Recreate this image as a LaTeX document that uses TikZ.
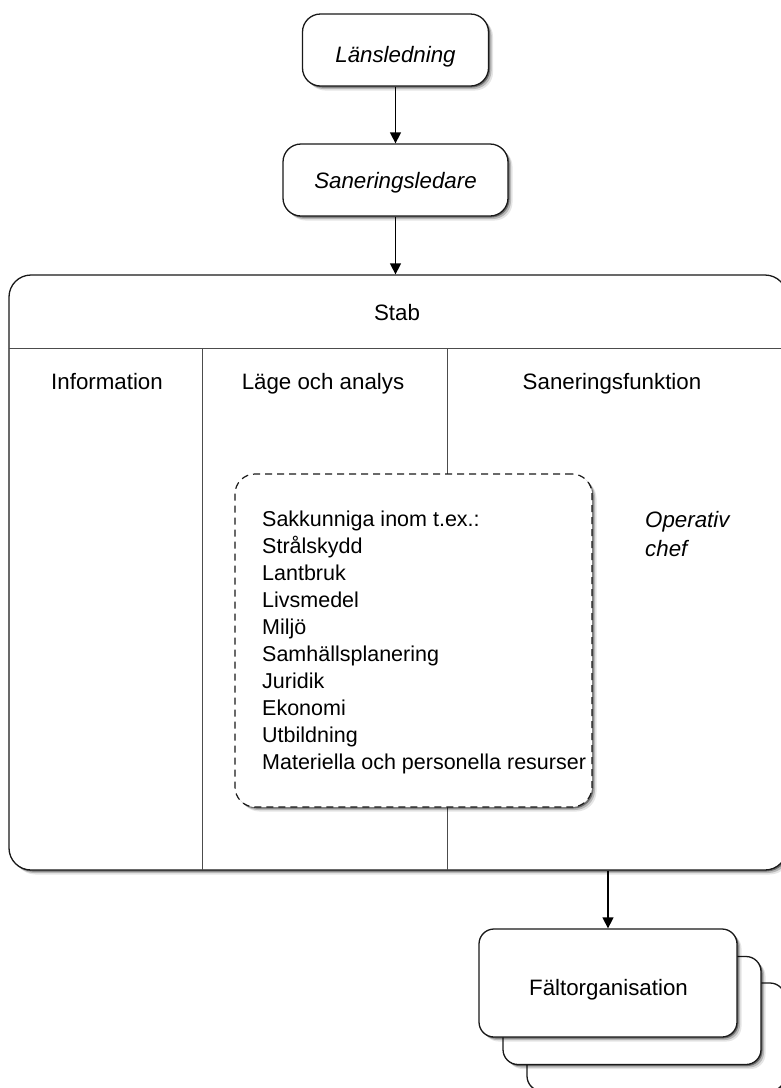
\documentclass[tikz,border=0pt]{standalone}
\usepackage{fontspec}
\setmainfont{Liberation Sans}
\usetikzlibrary{arrows.meta,shadows}
\begin{document}
\begin{tikzpicture}[x=1pt,y=-1pt,
  mysh/.style={drop shadow={shadow xshift=1.5pt,shadow yshift=-1.5pt,opacity=.4,fill=black},
               drop shadow={shadow xshift=3pt,shadow yshift=-3pt,opacity=.2,fill=black},
               drop shadow={shadow xshift=4.5pt,shadow yshift=-4.5pt,opacity=.1,fill=black}},
  box/.style={draw=black!90,line width=1.3pt,fill=white,rounded corners=18pt,inner sep=0pt,mysh},
  txt/.style={font=\fontsize{22.3}{27}\selectfont,inner sep=0pt,anchor=base},
  itxt/.style={txt,font=\fontsize{22.3}{27}\selectfont\itshape},
  litem/.style={txt,anchor=base west,font=\fontsize{21.5}{27}\selectfont},
  arr/.style={line width=1.4pt,-{Triangle[width=11pt,length=11pt]}},
  divider/.style={line width=1pt,draw=black!70}]
\useasboundingbox (0,0) rectangle (780,1088);

% top boxes
\node[box,minimum width=186pt,minimum height=72pt] (lans) at (395.5,50) {};
\node[itxt] (lanst) at (395.5,62.5) {Länsledning};
\node[box,minimum width=225pt,minimum height=72pt] (san) at (395.5,180) {};
\node[itxt] (sant) at (395.5,188.5) {Saneringsledare};

% Stab box
\node[box,rounded corners=22pt,minimum width=778pt,minimum height=595pt] (stab) at (398,572.5) {};
\coordinate (h1) at (9,348);
\coordinate (h2) at (787,348);
\draw[divider] (h1) -- (h2);
\coordinate (v1a) at (202,348);
\coordinate (v1b) at (202,870);
\draw[divider] (v1a) -- (v1b);
\coordinate (v2a) at (447,348);
\coordinate (v2b) at (447,870);
\draw[divider] (v2a) -- (v2b);

\node[txt] (stabt) at (397,320) {Stab};
\node[txt] (info) at (107,389) {Information};
\node[txt] (lage) at (323,389) {Läge och analys};
\node[txt] (sanf) at (612,389) {Saneringsfunktion};

% dashed box
\node[box,dash pattern=on 7pt off 5pt,line width=1.2pt,rounded corners=20pt,
      minimum width=357pt,minimum height=333pt] (sak) at (413.5,640.5) {};
\foreach \t [count=\i from 0] in {Sakkunniga inom t.ex.:,Strålskydd,Lantbruk,Livsmedel,Miljö,Samhällsplanering,Juridik,Ekonomi,Utbildning,Materiella och personella resurser}
  \node[litem] (item\i) at (262,526+27.1*\i) {\t};

\node[itxt,anchor=base west] (op1) at (645,527) {Operativ};
\node[itxt,anchor=base west] (op2) at (645,556) {chef};

% Faltorganisation stack
\node[box,rounded corners=15pt,minimum width=258pt,minimum height=108pt] (falt3) at (656,1037) {};
\node[box,rounded corners=15pt,minimum width=258pt,minimum height=108pt] (falt2) at (632,1010.5) {};
\node[box,rounded corners=15pt,minimum width=258pt,minimum height=108pt] (falt1) at (608,983) {};
\node[txt] (faltt) at (608.5,995) {Fältorganisation};

% arrows
\draw[arr] (lans.south) -- (san.north);
\draw[arr] (san.south) -- (san.south |- stab.north);
\draw[arr] (falt1.north |- stab.south) -- (falt1.north);
\end{tikzpicture}
\end{document}
